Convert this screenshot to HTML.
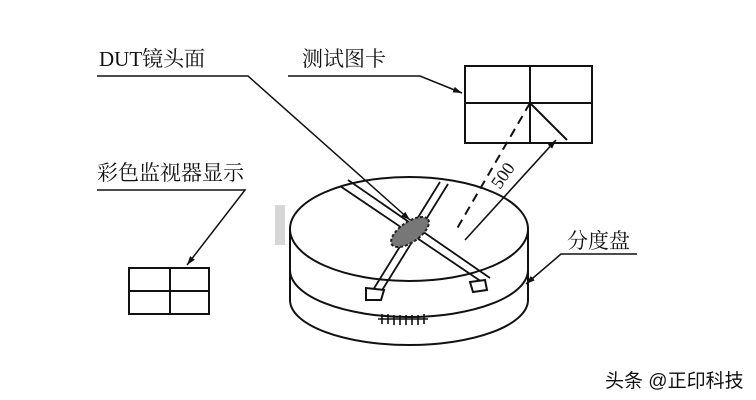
<!DOCTYPE html>
<html><head><meta charset="utf-8"><style>
html,body{margin:0;padding:0;background:#fff;}
svg{display:block}
text{font-family:"Liberation Serif","Noto Serif CJK SC",serif;fill:#111}
</style></head><body>
<svg width="756" height="400" viewBox="0 0 756 400" xmlns="http://www.w3.org/2000/svg">
<defs><marker id="a" markerWidth="10" markerHeight="8" refX="9" refY="4" orient="auto" markerUnits="userSpaceOnUse"><path d="M0,1 L9,4 L0,7 Z" fill="#111"/></marker></defs>
<rect width="756" height="400" fill="#fff"/>
<g stroke="#111" stroke-width="2" fill="none">
<path d="M290,229 L290,300 A119,45 0 0 0 528,300 L528,229"/>
<path d="M290,270 A119,47 0 0 0 528,270"/>
<ellipse cx="409" cy="229" rx="119" ry="52" fill="#fff"/>
<g stroke-width="1.6"><path d="M382,314v10M388,314v10M394,315v10M400,315v10M406,315v10M412,315v10M418,315v10M424,314v10M378,319h50"/></g>
<path d="M340,186 L482,282 M348,180 L490,278" stroke-width="1.8"/>
<path d="M440,182 L373,290 M448,184 L381,292" stroke-width="1.8"/>
<path d="M366,288 l18,2 l-3,10 l-15,0 z M470,282 l15,-2 l2,10 l-14,2 z" fill="#fff"/>
<ellipse cx="410" cy="232" rx="22" ry="10" transform="rotate(-35 410 232)" fill="#777" stroke="#222" stroke-dasharray="3,2"/>
<rect x="465" y="66" width="127" height="77"/>
<path d="M530,66V143M465,103H592"/>
<path d="M530,103 L455,232" stroke-dasharray="9,6"/>
<path d="M530,103 L567,140"/>
<path d="M465,240 L556,140" marker-end="url(#a)" stroke-width="1.6"/>
<rect x="129" y="268" width="80" height="46"/>
<path d="M170,268V314M129,291H209"/>
<g stroke-width="1.5">
<path d="M97,76H248L410,220" marker-end="url(#a)"/>
<path d="M288,76H420L462,93" marker-end="url(#a)"/>
<path d="M97,190H245L187,265" marker-end="url(#a)"/>
<path d="M637,254H561L526,284" marker-end="url(#a)"/>
</g>
</g>
<text x="99" y="66" font-size="21">DUT镜头面</text>
<text x="302" y="66" font-size="21">测试图卡</text>
<text x="97" y="180" font-size="21">彩色监视器显示</text>
<text x="567" y="248" font-size="21">分度盘</text>
<text x="0" y="0" font-size="18" transform="translate(500,190) rotate(-55)">500</text>
<rect x="275" y="205" width="10" height="40" fill="#bbb" opacity="0.6"/>
<text x="605" y="387" font-size="19" style="font-family:'Liberation Sans','Noto Sans CJK SC',sans-serif">头条 @正印科技</text>
</svg>
</body></html>
